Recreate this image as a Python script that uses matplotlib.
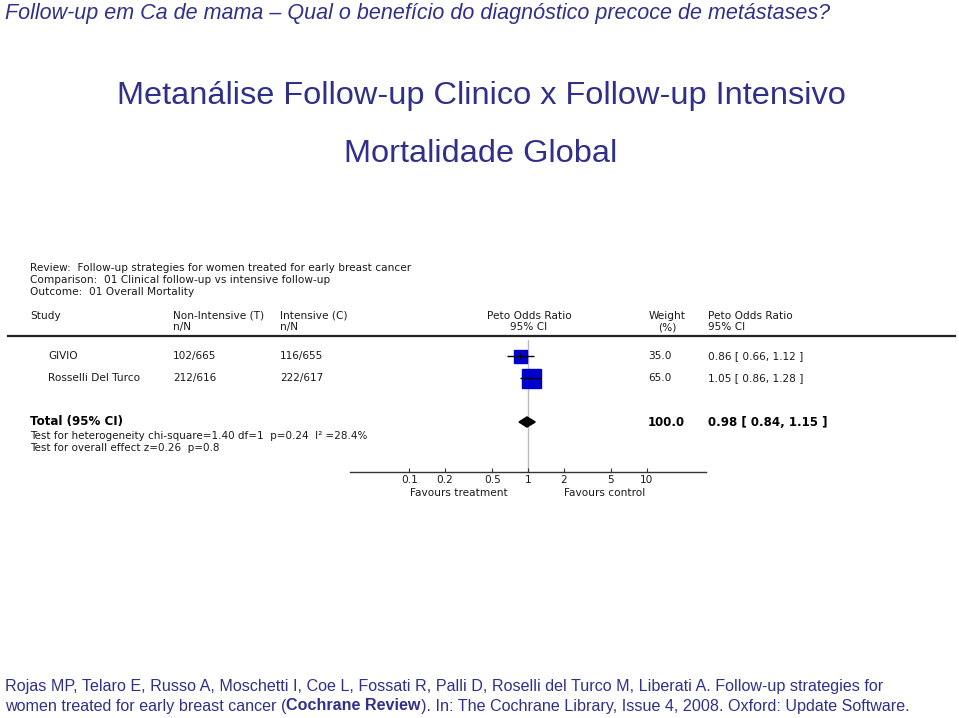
import numpy as np
import matplotlib
matplotlib.use("Agg")
import matplotlib.pyplot as plt

# Data
studies = ["GIVIO", "Rosselli Del Turco"]
non_intensive = ["102/665", "212/616"]
intensive = ["116/655", "222/617"]
odds_ratio = [0.86, 1.05]
ci_low = [0.66, 0.86]
ci_high = [1.12, 1.28]
weights = [35.0, 65.0]
total_or, total_low, total_high = 0.98, 0.84, 1.15
tick_vals = [0.1, 0.2, 0.5, 1, 2, 5, 10]

W, H = 959, 718
navy = "#30308a"
txt = "#1a1a1a"

fig = plt.figure(figsize=(W / 100, H / 100), dpi=100)
bg = fig.add_axes([0, 0, 1, 1])
bg.set_xlim(0, W)
bg.set_ylim(H, 0)
bg.axis("off")

sans = "Liberation Sans"
small = "DejaVu Sans"

bg.text(5, 13, "Follow-up em Ca de mama \u2013 Qual o benefício do diagnóstico precoce de metástases?",
        fontsize=15.5, style="italic", family=sans, color=navy, va="center")
bg.text(481, 96, "Metanálise Follow-up Clinico x Follow-up Intensivo",
        fontsize=23.4, family=sans, color=navy, ha="center", va="center")
bg.text(481, 154, "Mortalidade Global", fontsize=23.4, family=sans, color=navy,
        ha="center", va="center")

# review header
fs = 7.6
for y, s in [(268, "Review:  Follow-up strategies for women treated for early breast cancer"),
             (280, "Comparison:  01 Clinical follow-up vs intensive follow-up"),
             (292, "Outcome:  01 Overall Mortality")]:
    bg.text(30, y, s, fontsize=fs, family=small, color=txt, va="center")

bg.text(30, 316, "Study", fontsize=fs, family=small, color=txt, va="center")
bg.text(173, 316, "Non-Intensive (T)", fontsize=fs, family=small, color=txt, va="center")
bg.text(173, 327, "n/N", fontsize=fs, family=small, color=txt, va="center")
bg.text(280, 316, "Intensive (C)", fontsize=fs, family=small, color=txt, va="center")
bg.text(280, 327, "n/N", fontsize=fs, family=small, color=txt, va="center")
bg.text(529, 316, "Peto Odds Ratio", fontsize=fs, family=small, color=txt, va="center", ha="center")
bg.text(529, 327, "95% CI", fontsize=fs, family=small, color=txt, va="center", ha="center")
bg.text(667, 316, "Weight", fontsize=fs, family=small, color=txt, va="center", ha="center")
bg.text(667, 327, "(%)", fontsize=fs, family=small, color=txt, va="center", ha="center")
bg.text(708, 316, "Peto Odds Ratio", fontsize=fs, family=small, color=txt, va="center")
bg.text(708, 327, "95% CI", fontsize=fs, family=small, color=txt, va="center")
bg.plot([8, 955], [335.5, 335.5], color="#222222", lw=1.6)

# forest axes: x log scale, rows in units of 22 px starting at y=356
x0, x1 = 350, 706
y0, y1 = 340, 472
ax = fig.add_axes([x0 / W, 1 - y1 / H, (x1 - x0) / W, (y1 - y0) / H])
dec = (x1 - x0) / 3.0
ax.set_xscale("log")
ax.set_xlim(10 ** ((x0 - 528) / dec), 10 ** ((x1 - 528) / dec))
row_px = 22
ax.set_ylim((y1 - 356) / row_px, -(356 - y0) / row_px)
ax.patch.set_alpha(0)
for s in ["top", "left", "right"]:
    ax.spines[s].set_visible(False)
ax.spines["bottom"].set_color("#333333")
ax.spines["bottom"].set_linewidth(1.0)
ax.set_yticks([])
ax.set_xticks(tick_vals)
ax.set_xticklabels([f"{v:g}" for v in tick_vals], fontsize=fs, family=small, color=txt)
ax.xaxis.set_minor_locator(matplotlib.ticker.NullLocator())
ax.tick_params(axis="x", direction="in", length=3, width=0.8, pad=2, color="#333333")
ax.axvline(1, color="#bbbbbb", lw=1.0, zorder=0)

rows = np.arange(len(studies))
sizes = [13, 19]
ax.hlines(rows, ci_low, ci_high, color="black", lw=1.0, zorder=3)
for r, orv, sz in zip(rows, odds_ratio, sizes):
    ax.plot(orv, r, marker="s", ms=sz * 0.72, color="#0000cc", mec="#0000cc", zorder=2)
    ax.plot(orv, r, marker="+", ms=4, color="black", mew=0.6, zorder=4)
total_row = 3
ax.fill([total_low, total_or, total_high, total_or],
        [total_row, total_row - 0.23, total_row, total_row + 0.23], color="black", zorder=3)

for r, s, a, b, w, orv, lo, hi in zip(rows, studies, non_intensive, intensive, weights,
                                      odds_ratio, ci_low, ci_high):
    y = 356 + r * row_px
    bg.text(48, y, s, fontsize=fs, family=small, color=txt, va="center")
    bg.text(173, y, a, fontsize=fs, family=small, color=txt, va="center")
    bg.text(280, y, b, fontsize=fs, family=small, color=txt, va="center")
    bg.text(648, y, f"{w:.1f}", fontsize=fs, family=small, color=txt, va="center")
    bg.text(708, y, f"{orv:.2f} [ {lo:.2f}, {hi:.2f} ]", fontsize=fs, family=small, color=txt, va="center")

yt = 356 + total_row * row_px
bg.text(30, yt, "Total (95% CI)", fontsize=8.6, weight="bold", family=small, color="black", va="center")
bg.text(648, yt, "100.0", fontsize=8.5, weight="bold", family=small, color="black", va="center")
bg.text(708, yt, f"{total_or:.2f} [ {total_low:.2f}, {total_high:.2f} ]", fontsize=8.5,
        weight="bold", family=small, color="black", va="center")
bg.text(30, 436, "Test for heterogeneity chi-square=1.40 df=1  p=0.24  I\u00b2 =28.4%",
        fontsize=7.5, family=small, color=txt, va="center")
bg.text(30, 448, "Test for overall effect z=0.26  p=0.8", fontsize=7.5, family=small,
        color=txt, va="center")
bg.text(459, 493, "Favours treatment", fontsize=fs, family=small, color=txt, va="center", ha="center")
bg.text(605, 493, "Favours control", fontsize=fs, family=small, color=txt, va="center", ha="center")

# citation
cfs = 11.6
bg.text(5, 687, "Rojas MP, Telaro E, Russo A, Moschetti I, Coe L, Fossati R, Palli D, Roselli del Turco M, "
        "Liberati A. Follow-up strategies for", fontsize=cfs, family=sans, color=navy, va="center")
rend = fig.canvas.get_renderer()
parts = [("women treated for early breast cancer (", "normal"), ("Cochrane Review", "bold"),
         ("). In: The Cochrane Library, Issue 4, 2008. Oxford: Update Software.", "normal")]
xpos = 5
inv = bg.transData.inverted()
for s, wt in parts:
    t = bg.text(xpos, 706, s, fontsize=cfs, family=sans, weight=wt, color=navy, va="center")
    bb = t.get_window_extent(renderer=rend)
    xpos = inv.transform((bb.x1, bb.y0))[0]

fig.savefig("out.png", dpi=100)
